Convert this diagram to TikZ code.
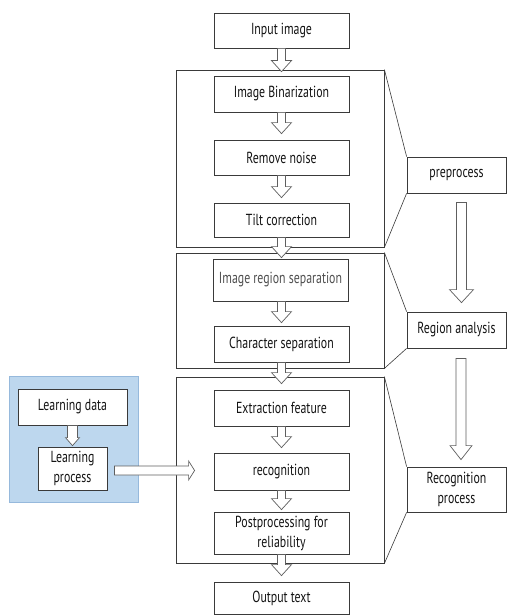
\documentclass[tikz,border=0pt]{standalone}
\usepackage{fontspec}
\setmainfont{PT Sans}[FakeStretch=0.74]
\usetikzlibrary{calc}
\definecolor{boxline}{HTML}{3A3A3A}
\definecolor{arrline}{HTML}{5E5E5E}
\definecolor{panelfill}{RGB}{189,215,238}
\definecolor{panelline}{RGB}{150,185,220}
\definecolor{txt}{HTML}{141414}
\definecolor{lighttxt}{HTML}{505050}
\tikzset{
  box/.style={draw=boxline, line width=0.8pt, fill=white, inner sep=0pt, minimum width=135pt,
    align=center, text=txt, font=\fontsize{16}{20}\selectfont},
  outerbox/.style={draw=boxline, line width=0.8pt, inner sep=0pt, minimum width=208pt},
  labelbox/.style={draw=boxline, line width=0.8pt, fill=white, inner sep=0pt, minimum width=99pt,
    align=center, text=txt, font=\fontsize{16}{20}\selectfont},
  panel/.style={draw=panelline, line width=0.8pt, fill=panelfill, inner sep=0pt},
  conn/.style={draw=boxline, line width=0.6pt},
  blockarrow/.style={draw=arrline, line width=0.7pt, fill=white, line join=miter}
}
% vertical block arrow: from, to, shaft half width, head half width, head length
\newcommand\vblock[5]{%
  \path[blockarrow] let \p1=(#1), \p2=(#2) in
    (\x1-#3pt,\y1) -- (\x1-#3pt,\y2+#5pt) -- (\x1-#4pt,\y2+#5pt) -- (\x1,\y2)
    -- (\x1+#4pt,\y2+#5pt) -- (\x1+#3pt,\y2+#5pt) -- (\x1+#3pt,\y1) -- cycle;}
% horizontal block arrow
\newcommand\hblock[5]{%
  \path[blockarrow] let \p1=(#1), \p2=(#2) in
    (\x1,\y1+#3pt) -- (\x2-#5pt,\y1+#3pt) -- (\x2-#5pt,\y1+#4pt) -- (\x2,\y1)
    -- (\x2-#5pt,\y1-#4pt) -- (\x2-#5pt,\y1-#3pt) -- (\x1,\y1-#3pt) -- cycle;}
\begin{document}
\begin{tikzpicture}[x=1pt,y=-1pt]
\useasboundingbox (0,0) rectangle (507,615);
\fill[white] (0,0) rectangle (507,615);

% outer group boxes
\node[outerbox, minimum height=177pt] (outer1) at (280,158.5) {};
\node[outerbox, minimum height=115pt] (outer2) at (280,310.5) {};
\node[outerbox, minimum height=186pt] (outer3) at (280,470) {};

% right label boxes
\node[labelbox, minimum height=36pt] (pre) at (456.5,175) {preprocess};
\node[labelbox, minimum height=36pt] (region) at (456.5,330) {Region analysis};
\node[labelbox, minimum height=45pt] (recog) at (456.5,489.5) {Recognition\\process};

\draw[conn] (outer1.north east) -- (pre.north west);
\draw[conn] (outer1.south east) -- (pre.south west);
\draw[conn] (outer2.north east) -- (region.north west);
\draw[conn] (outer2.south east) -- (region.south west);
\draw[conn] (outer3.north east) -- (recog.north west);
\draw[conn] (outer3.south east) -- (recog.south west);

% main column
\node[box, minimum height=35pt] (input) at (281.5,30.5) {Input image};
\node[box, minimum height=36pt] (binar) at (281.5,94) {Image Binarization};
\node[box, minimum height=35pt] (noise) at (281.5,157.5) {Remove noise};
\node[box, minimum height=34pt] (tilt) at (281.5,220) {Tilt correction};
\node[box, minimum height=42pt, text=lighttxt] (irs) at (280.5,280) {Image region separation};
\node[box, minimum height=36pt] (charsep) at (281.5,344) {Character separation};
\node[box, minimum height=36pt] (extract) at (281.5,408) {Extraction feature};
\node[box, minimum height=37pt] (recogn) at (281.5,471.5) {recognition};
\node[box, minimum height=42pt] (post) at (281.5,533) {Postprocessing for\\reliability};
\node[box, minimum height=32pt] (output) at (281.5,598) {Output text};

% left learning panel
\node[panel, minimum width=129pt, minimum height=126pt] (panel) at (73.5,439) {};
\node[box, minimum width=109pt, minimum height=36pt] (ldata) at (72.5,407) {Learning data};
\node[box, minimum width=69pt, minimum height=43pt] (lproc) at (72.5,468.5) {Learning\\process};

% block arrows in the main column
\vblock{input.south}{$(binar.north)+(0,-4)$}{4}{10}{11}
\vblock{binar.south}{$(noise.north)+(0,-6)$}{4}{10}{11}
\vblock{noise.south}{$(tilt.north)+(0,-5)$}{4}{10}{11}
\vblock{tilt.south}{$(irs.north)+(0,-1)$}{4}{10}{11}
\vblock{$(irs.south)+(1,0)$}{$(charsep.north)+(0,-3)$}{4}{10}{11}
\vblock{charsep.south}{$(extract.north)+(0,-6)$}{4}{10}{11}
\vblock{extract.south}{$(recogn.north)+(0,-5)$}{4}{10}{11}
\vblock{recogn.south}{$(post.north)+(0,-2)$}{4}{10}{11}
\vblock{post.south}{$(output.north)+(0,-6)$}{4}{10}{11}

% right column arrows
\vblock{$(pre.south)+(5,9)$}{$(region.north)+(0,-9)$}{5}{12}{13}
\vblock{$(region.south)+(4.5,10)$}{$(recog.north)+(0,-7)$}{5}{11}{14}

% learning arrows
\vblock{ldata.south}{$(lproc.north)+(0,-1)$}{5}{7}{8}
\hblock{$(lproc.east)+(7,2)$}{$(outer3.west)+(19,0)$}{4.5}{9.5}{6}
\end{tikzpicture}
\end{document}
